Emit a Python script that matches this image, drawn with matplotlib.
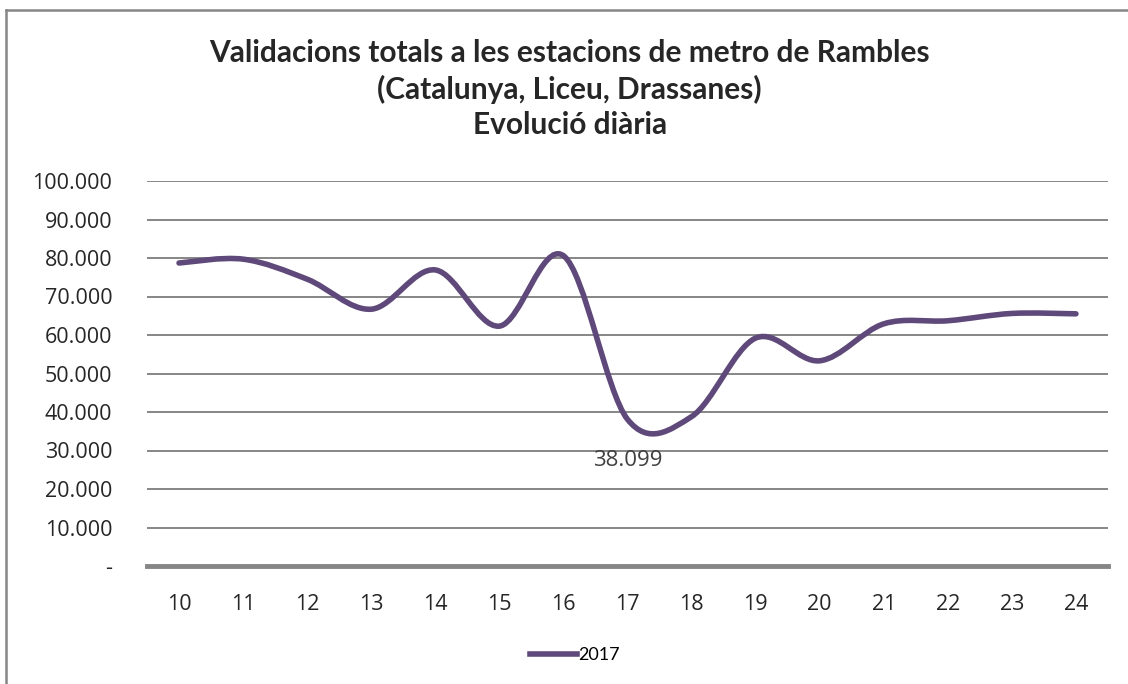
import matplotlib
matplotlib.use("Agg")
import matplotlib.pyplot as plt
from matplotlib.path import Path
from matplotlib.patches import PathPatch
from matplotlib.lines import Line2D

# dades llegides del gràfic
dies = ['10', '11', '12', '13', '14', '15', '16', '17', '18', '19', '20', '21', '22', '23', '24']
validacions = [78700, 79700, 74500, 66700, 76900, 62300, 80600, 38099,
               38800, 59200, 53300, 62900, 63700, 65600, 65500]
etiqueta_dia = '17'
serie = '2017'
titol = ('Validacions totals a les estacions de metro de Rambles\n'
         '(Catalunya, Liceu, Drassanes)\n'
         'Evolució diària')

color_linia = '#5F497A'
color_gris = '#868686'

fig = plt.figure(figsize=(11.28, 6.84), dpi=100)
W, H = 1128, 684
ax = fig.add_axes([147 / W, 1 - 566 / H, (1108 - 147) / W, (566 - 181) / H])

# corba suavitzada (Bezier tipus Catmull-Rom, com l'Excel)
xs = list(range(len(dies)))
pts = list(zip(xs, validacions))
verts = [pts[0]]
codes = [Path.MOVETO]
for i in range(len(pts) - 1):
    p0 = pts[i - 1] if i > 0 else pts[i]
    p1 = pts[i]
    p2 = pts[i + 1]
    p3 = pts[i + 2] if i + 2 < len(pts) else pts[i + 1]
    c1 = (p1[0] + (p2[0] - p0[0]) / 6, p1[1] + (p2[1] - p0[1]) / 6)
    c2 = (p2[0] - (p3[0] - p1[0]) / 6, p2[1] - (p3[1] - p1[1]) / 6)
    verts += [c1, c2, p2]
    codes += [Path.CURVE4] * 3
ax.add_patch(PathPatch(Path(verts, codes), facecolor='none', edgecolor=color_linia,
                       lw=4, capstyle='round', joinstyle='round', zorder=3))

ax.set_xlim(-0.5, len(dies) - 0.5)
ax.set_ylim(0, 100000)
ax.set_yticks(range(0, 100001, 10000))
ax.set_yticklabels(['-'] + [f'{v:,}'.replace(',', '.') for v in range(10000, 100001, 10000)])
ax.set_xticks(xs)
ax.set_xticklabels(dies)
ax.tick_params(length=0, labelsize=15.5, colors='#262626')
ax.tick_params(axis='y', pad=25)
ax.tick_params(axis='x', pad=20)
for lab in ax.get_xticklabels() + ax.get_yticklabels():
    lab.set_fontfamily('Open Sans')

for v in range(10000, 100001, 10000):
    ax.axhline(v, color=color_gris, lw=1.4, zorder=1)
for s in ['top', 'right', 'left']:
    ax.spines[s].set_visible(False)
ax.spines['bottom'].set_color(color_gris)
ax.spines['bottom'].set_linewidth(3.5)

# etiqueta del mínim
i = dies.index(etiqueta_dia)
ax.annotate(f'{validacions[i]:,}'.replace(',', '.'), (i, validacions[i]),
            xytext=(0, -30), textcoords='offset points', ha='center', va='center',
            fontsize=16, color='#404040', family='Open Sans')

fig.text(0.505, 1 - 89 / H, titol, ha='center', va='center', fontsize=21.5,
         fontweight='bold', family='Lato', color='#262626', linespacing=1.3)

# llegenda
fig.legend(handles=[Line2D([], [], color=color_linia, lw=4)], labels=[serie],
           loc='center', bbox_to_anchor=(575 / W, 1 - 655 / H), frameon=False,
           handlelength=2.6, handletextpad=0.1, prop={'family': 'Lato', 'size': 13})

# marc exterior
fig.add_artist(Line2D([6 / W, 6 / W], [0, 1 - 10 / H], color=color_gris, lw=1.8))
fig.add_artist(Line2D([6 / W, 1], [1 - 10 / H, 1 - 10 / H], color=color_gris, lw=1.8))

fig.savefig('out.png', dpi=100)
